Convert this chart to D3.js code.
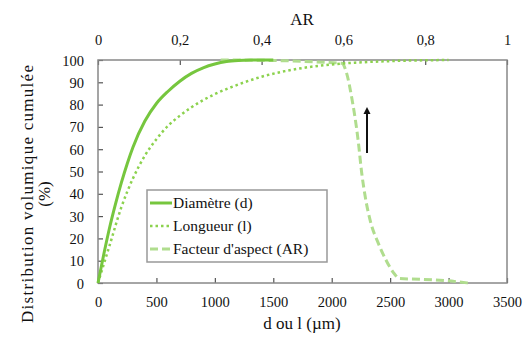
<!DOCTYPE html>
<html>
<head>
<meta charset="utf-8">
<script src="https://cdn.jsdelivr.net/npm/d3@7/dist/d3.min.js"></script>
<style>
  html, body { margin: 0; padding: 0; background: #fff; }
  svg { display: block; }
  svg text { font-family: "Liberation Serif", Tinos, "DejaVu Serif", serif; fill: #111; }
</style>
</head>
<body>
<svg id="chart" width="525" height="342"></svg>
<script>
// ---- Data ----
const diamX = [0, 50, 100, 150, 200, 250, 300, 400, 500, 600, 700, 800, 900, 1000, 1100, 1200, 1300, 1500];
const diamY = [0, 13, 25, 35.5, 45, 53.5, 61, 72.5, 80.5, 86, 90.5, 94, 96.5, 98.2, 99.3, 99.8, 100, 100];

const longX = [0, 100, 200, 300, 400, 500, 600, 700, 800, 900, 1000, 1200, 1400, 1600, 1800, 2000, 2200, 2500, 3000];
const longY = [0, 17, 34, 47, 57, 64.5, 70.5, 75, 78.8, 82, 84.7, 89, 92.5, 95, 96.8, 98, 98.8, 99.5, 100];

const arX = [0.30, 0.45, 0.55, 0.596, 0.608, 0.62, 0.636, 0.645, 0.655, 0.667, 0.685, 0.705, 0.725, 0.737, 0.787, 0.853, 0.905];
const arY = [100, 99.7, 99, 98.5, 94, 83.5, 64, 49, 37, 27, 18, 10, 4, 2, 1.7, 1, 0];

const xTicks = [0, 500, 1000, 1500, 2000, 2500, 3000, 3500];
const arTicks = [0, 0.2, 0.4, 0.6, 0.8, 1];
const arTickLabels = ["0", "0,2", "0,4", "0,6", "0,8", "1"];
const yTicks = [0, 10, 20, 30, 40, 50, 60, 70, 80, 90, 100];

const seriesNames = ["Diamètre (d)", "Longueur (l)", "Facteur d'aspect (AR)"];
const colors = ["#76c63e", "#8cd24e", "#b0dd8e"];

// ---- Layout ----
const FONT = '"Liberation Serif", Tinos, "DejaVu Serif", serif';
const L = 98, R = 507, T = 60, B = 283;
const svg = d3.select("#chart");

const x = d3.scaleLinear().domain([0, 3500]).range([L, R]);
const xAR = d3.scaleLinear().domain([0, 1]).range([L, R]);
const y = d3.scaleLinear().domain([0, 100]).range([B, T]);

// Axes
const gx = svg.append("g").attr("transform", `translate(0,${B})`)
  .call(d3.axisBottom(x).tickValues(xTicks).tickFormat(d3.format("d"))
    .tickSizeInner(-5).tickSizeOuter(0).tickPadding(14));
const gt = svg.append("g").attr("transform", `translate(0,${T})`)
  .call(d3.axisTop(xAR).tickValues(arTicks).tickFormat((d, i) => arTickLabels[i])
    .tickSizeInner(-5).tickSizeOuter(0).tickPadding(15));
const gy = svg.append("g").attr("transform", `translate(${L},0)`)
  .call(d3.axisLeft(y).tickValues(yTicks).tickSizeInner(-5).tickSizeOuter(0).tickPadding(14));

[gx, gt, gy].forEach(g => {
  g.attr("font-family", FONT);
  g.select(".domain").remove();
  g.selectAll(".tick line").attr("stroke", "#555").attr("stroke-width", 1.2);
  g.selectAll(".tick text").attr("font-size", 14.5).attr("fill", "#111");
});
gy.selectAll(".tick text").attr("dy", "0.35em");

// Frame
svg.append("rect").attr("x", L).attr("y", T).attr("width", R - L).attr("height", B - T)
  .attr("fill", "none").attr("stroke", "#888").attr("stroke-width", 1.5);

// Lines
const lineD = d3.line().curve(d3.curveMonotoneX).x(i => x(diamX[i])).y(i => y(diamY[i]));
const lineL = d3.line().curve(d3.curveMonotoneX).x(i => x(longX[i])).y(i => y(longY[i]));
const lineA = d3.line().curve(d3.curveMonotoneX).x(i => xAR(arX[i])).y(i => y(arY[i]));

svg.append("path").attr("d", lineA(d3.range(arX.length)))
  .attr("fill", "none").attr("stroke", colors[2]).attr("stroke-width", 3).attr("stroke-dasharray", "8,4");
svg.append("path").attr("d", lineL(d3.range(longX.length)))
  .attr("fill", "none").attr("stroke", colors[1]).attr("stroke-width", 2.5).attr("stroke-dasharray", "2.5,3");
svg.append("path").attr("d", lineD(d3.range(diamX.length)))
  .attr("fill", "none").attr("stroke", colors[0]).attr("stroke-width", 3);

// Arrow
svg.append("line").attr("x1", 367).attr("x2", 367).attr("y1", 153).attr("y2", 112)
  .attr("stroke", "#111").attr("stroke-width", 2);
svg.append("path").attr("d", "M367,107 L363.5,114 L370.5,114 Z").attr("fill", "#111");

// Legend
const lg = svg.append("g").attr("font-family", FONT);
lg.append("rect").attr("x", 147).attr("y", 190).attr("width", 180).attr("height", 72)
  .attr("fill", "#fff").attr("stroke", "#999").attr("stroke-width", 1.5);
const rowY = [203, 226, 249];
const dashes = [null, "2.5,3", "8,4"];
const widths = [3, 2.5, 3];
seriesNames.forEach((name, i) => {
  const ln = lg.append("line").attr("x1", 150).attr("x2", 172).attr("y1", rowY[i]).attr("y2", rowY[i])
    .attr("stroke", colors[i]).attr("stroke-width", widths[i]);
  if (dashes[i]) ln.attr("stroke-dasharray", dashes[i]);
  lg.append("text").attr("x", 173).attr("y", rowY[i]).attr("dy", "0.35em")
    .attr("font-size", 15.5).text(name);
});

// Axis titles
const tg = svg.append("g").attr("font-family", FONT);
tg.append("text").attr("x", 302).attr("y", 25).attr("text-anchor", "middle")
  .attr("font-size", 17).text("AR");
tg.append("text").attr("x", 302).attr("y", 329).attr("text-anchor", "middle")
  .attr("font-size", 17).text("d ou l (µm)");
tg.append("text").attr("transform", "translate(33,194) rotate(-90)").attr("text-anchor", "middle")
  .attr("font-size", 17).attr("textLength", 258).attr("lengthAdjust", "spacing")
  .text("Distribution volumique cumulée");
tg.append("text").attr("transform", "translate(50,194) rotate(-90)").attr("text-anchor", "middle")
  .attr("font-size", 17).text("(%)");
</script>
</body>
</html>
